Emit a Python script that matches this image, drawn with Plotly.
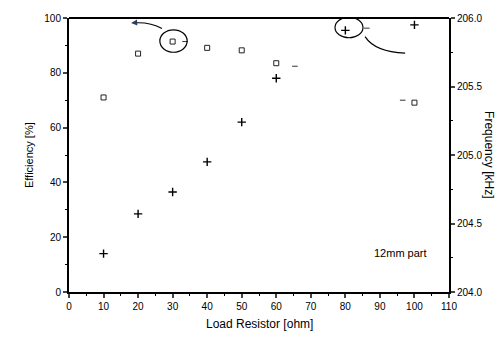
import plotly.graph_objects as go

# Data
load_resistor = [10, 20, 30, 40, 50, 60, 100]
efficiency = [71.0, 87.0, 91.4, 89.1, 88.2, 83.5, 69.1]

freq_resistor = [10, 20, 30, 40, 50, 60, 80, 100]
frequency_khz = [204.28, 204.57, 204.73, 204.95, 205.24, 205.56, 205.91, 205.95]

dash_x = [33.6, 65.4, 86.2, 96.6]
dash_y = [91.4, 82.4, 96.3, 70.0]

x_ticks = list(range(0, 111, 10))
y_ticks = [0, 20, 40, 60, 80, 100]
y2_ticks = [204.0, 204.5, 205.0, 205.5, 206.0]

FONT = "Liberation Sans, Arial, sans-serif"

fig = go.Figure()
fig.add_trace(go.Scatter(
    x=load_resistor, y=efficiency, mode="markers",
    marker=dict(symbol="square-open", size=5, color="#222", line=dict(width=1)),
    showlegend=False, yaxis="y", cliponaxis=False))
fig.add_trace(go.Scatter(
    x=freq_resistor, y=frequency_khz, mode="markers",
    marker=dict(symbol="cross-thin-open", size=6, color="black", line=dict(width=1.4, color="black")),
    showlegend=False, yaxis="y2", cliponaxis=False))
fig.add_trace(go.Scatter(
    x=dash_x, y=dash_y, mode="markers",
    marker=dict(symbol="line-ew-open", size=4, color="#333", line=dict(width=1, color="#333")),
    showlegend=False, yaxis="y"))

axis_common = dict(showgrid=False, zeroline=False, ticks="outside", ticklen=4,
                   tickwidth=1.5, linecolor="black", linewidth=2, showline=True,
                   tickfont=dict(family=FONT, size=10, color="black"),
                   minor=dict(ticks="outside", ticklen=2, tickwidth=1, tickcolor="black"))

fig.update_layout(
    width=504, height=338,
    margin=dict(l=69, r=55, t=13, b=46),
    plot_bgcolor="white", paper_bgcolor="white",
    xaxis=dict(range=[0, 110], tickvals=x_ticks, mirror=False, **axis_common),
    yaxis=dict(range=[0, 100], tickvals=y_ticks, **axis_common),
    yaxis2=dict(range=[204, 206], tickvals=y2_ticks, tickformat=".1f", overlaying="y",
                side="right", **axis_common),
)
fig.update_layout(xaxis_minor=dict(dtick=5), yaxis_minor=dict(dtick=10),
                  yaxis2_minor=dict(dtick=0.25))

# top frame line
fig.add_shape(type="line", xref="paper", yref="paper", x0=0, x1=1, y0=1, y1=1,
              line=dict(color="black", width=2))

# circles and connectors
fig.add_shape(type="circle", xref="x", yref="y", x0=26.3, x1=34.2, y0=87.5, y1=95.7,
              line=dict(color="black", width=1.2))
fig.add_shape(type="path", xref="x", yref="y", path="M 26.9,96.2 Q 23.5,98.6 18.6,98.2",
              line=dict(color="black", width=1.2))
fig.add_annotation(x=18.0, y=98.2, ax=19.5, ay=98.3, xref="x", yref="y", axref="x", ayref="y",
                   showarrow=True, arrowhead=2, arrowsize=1, arrowwidth=1.2, text="")
fig.add_shape(type="circle", xref="x", yref="y", x0=77.0, x1=85.1, y0=92.8, y1=100.3,
              line=dict(color="black", width=1.2))
fig.add_shape(type="path", xref="x", yref="y", path="M 85.7,93.2 Q 88.6,87.6 97.3,87.2",
              line=dict(color="black", width=1.2))

# titles
fig.add_annotation(text="Load Resistor [ohm]", xref="paper", yref="paper", x=0.5, y=-0.118,
                   xanchor="center", yanchor="middle", showarrow=False,
                   font=dict(family=FONT, size=12, color="black"))
fig.add_annotation(text="Efficiency [%]", xref="paper", yref="paper", x=-0.105, y=0.5,
                   textangle=-90, xanchor="center", yanchor="middle", showarrow=False,
                   font=dict(family=FONT, size=11, color="black"))
fig.add_annotation(text="Frequency [kHz]", xref="paper", yref="paper", x=1.105, y=0.5,
                   textangle=90, xanchor="center", yanchor="middle", showarrow=False,
                   font=dict(family=FONT, size=12, color="black"))
fig.add_annotation(text="12mm part", xref="x", yref="y", x=96, y=14.2,
                   xanchor="center", yanchor="middle", showarrow=False,
                   font=dict(family=FONT, size=11, color="black"))

fig.write_html("out.html")
